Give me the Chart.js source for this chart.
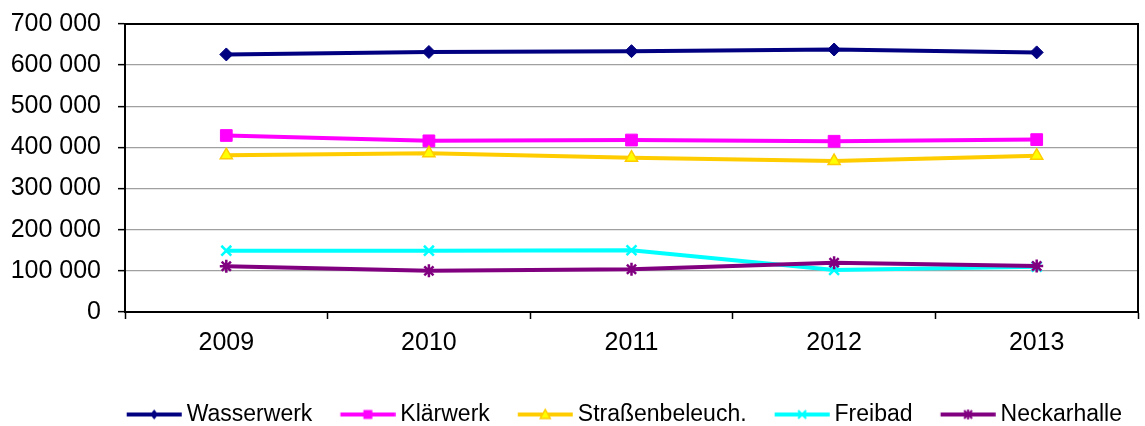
<!DOCTYPE html>
<html>
<head>
<meta charset="utf-8">
<script src="https://cdn.jsdelivr.net/npm/chart.js@4"></script>
<style>
    html, body { margin: 0; padding: 0; background: #fff; }
    #wrap { width: 1145px; height: 426px; position: relative; }
</style>
</head>
<body>
<div id="wrap"><canvas id="chart"></canvas></div>
<script>
var categories = ['2009', '2010', '2011', '2012', '2013'];
var seriesNames = ['Wasserwerk', 'Klärwerk', 'Straßenbeleuch.', 'Freibad', 'Neckarhalle'];
var wasserwerk = [626000, 632000, 634000, 638000, 631000];
var klaerwerk = [429000, 416000, 418000, 415000, 419000];
var strassenbeleuchtung = [381000, 386000, 375000, 367000, 380000];
var freibad = [149000, 149000, 150000, 102000, 110000];
var neckarhalle = [111000, 100000, 104000, 120000, 112000];
var yMin = 0, yMax = 700000, yStep = 100000;

var FONT = '"Liberation Sans", Arial, sans-serif';
var LEGEND_FONT = 23;
var SWATCH_LINE = 55;   // length of the line in a legend swatch
var SWATCH_LEAD = 12;   // line starts this far right of the legend item's x
var LEGEND_PAD = 16;
var BOX_W = SWATCH_LEAD + SWATCH_LINE + 5 - LEGEND_FONT / 2;

function formatNumber(n) {
    return String(n).replace(/\B(?=(\d{3})+(?!\d))/g, ' ');
}

// legend swatch: a short line with the marker in the middle.
// chart.js centres the image on the box, so it is padded to put the line where we want it
function legendSwatch(color, style, fill) {
    var half = Math.max(BOX_W / 2 - SWATCH_LEAD, SWATCH_LEAD + SWATCH_LINE - BOX_W / 2);
    var c = document.createElement('canvas');
    c.width = Math.ceil(half * 2);
    c.height = 16;
    var ctx = c.getContext('2d');
    var x0 = c.width / 2 - BOX_W / 2 + SWATCH_LEAD, x1 = x0 + SWATCH_LINE;
    var cy = 8, cx = (x0 + x1) / 2;
    ctx.strokeStyle = color;
    ctx.lineWidth = 4;
    ctx.beginPath();
    ctx.moveTo(x0, cy);
    ctx.lineTo(x1, cy);
    ctx.stroke();
    ctx.fillStyle = fill || color;
    ctx.strokeStyle = color;
    ctx.lineWidth = 1.5;
    ctx.beginPath();
    if (style === 'diamond') {
        ctx.moveTo(cx, cy - 5); ctx.lineTo(cx + 4, cy); ctx.lineTo(cx, cy + 5); ctx.lineTo(cx - 4, cy);
        ctx.closePath(); ctx.fill();
    } else if (style === 'square') {
        ctx.rect(cx - 4.5, cy - 4.5, 9, 9); ctx.fill();
    } else if (style === 'triangle') {
        ctx.moveTo(cx, cy - 5); ctx.lineTo(cx + 5, cy + 4); ctx.lineTo(cx - 5, cy + 4);
        ctx.closePath(); ctx.fill(); ctx.stroke();
    } else if (style === 'cross') {
        ctx.moveTo(cx - 4, cy - 4); ctx.lineTo(cx + 4, cy + 4);
        ctx.moveTo(cx + 4, cy - 4); ctx.lineTo(cx - 4, cy + 4);
        ctx.lineWidth = 2; ctx.stroke();
    } else if (style === 'star') {
        ctx.moveTo(cx - 4, cy - 4); ctx.lineTo(cx + 4, cy + 4);
        ctx.moveTo(cx + 4, cy - 4); ctx.lineTo(cx - 4, cy + 4);
        ctx.moveTo(cx, cy - 5); ctx.lineTo(cx, cy + 5);
        ctx.lineWidth = 2; ctx.stroke();
    }
    return c;
}

var styles = [
    { color: '#000080', point: 'rectRot', radius: 6.5, fill: '#000080', border: 1, swatch: 'diamond' },
    { color: '#FF00FF', point: 'rect', radius: 8.3, fill: '#FF00FF', border: 1, swatch: 'square' },
    { color: '#FFCC00', point: 'triangle', radius: 7, fill: '#FFFF00', border: 1.5, swatch: 'triangle', swatchFill: '#FFFF00' },
    { color: '#00FFFF', point: 'crossRot', radius: 7, fill: '#00FFFF', border: 2.5, swatch: 'cross' },
    { color: '#800080', point: 'star', radius: 6.5, fill: '#800080', border: 2.5, swatch: 'star' }
];
var values = [wasserwerk, klaerwerk, strassenbeleuchtung, freibad, neckarhalle];

var datasets = values.map(function (v, i) {
    var s = styles[i];
    return {
        label: seriesNames[i],
        data: v,
        borderColor: s.color,
        backgroundColor: s.color,
        borderWidth: 4,
        pointStyle: s.point,
        pointRadius: s.radius,
        pointBackgroundColor: s.fill,
        pointBorderColor: s.color,
        pointBorderWidth: s.border,
        tension: 0,
        order: values.length - i
    };
});

var plotFrame = {
    id: 'plotFrame',
    beforeDatasetsDraw: function (chart) {
        var a = chart.chartArea, ctx = chart.ctx;
        ctx.save();
        ctx.strokeStyle = '#000';
        ctx.lineWidth = 2;
        ctx.strokeRect(a.left, a.top, a.right - a.left, a.bottom - a.top);
        ctx.restore();
    }
};

Chart.defaults.font.family = FONT;
Chart.defaults.color = '#000';

new Chart(document.getElementById('chart'), {
    type: 'line',
    data: { labels: categories, datasets: datasets },
    plugins: [plotFrame],
    options: {
        responsive: true,
        maintainAspectRatio: false,
        animation: false,
        layout: { autoPadding: false, padding: { top: 24, right: 7, left: 0, bottom: -10 } },
        plugins: {
            tooltip: { enabled: false },
            legend: {
                position: 'bottom',
                align: 'end',
                labels: {
                    usePointStyle: true,
                    pointStyleWidth: BOX_W,
                    padding: LEGEND_PAD,
                    color: '#000',
                    font: { size: LEGEND_FONT, family: FONT },
                    generateLabels: function (chart) {
                        return chart.data.datasets.map(function (ds, i) {
                            return {
                                text: ds.label,
                                pointStyle: legendSwatch(styles[i].color, styles[i].swatch, styles[i].swatchFill),
                                fillStyle: styles[i].color,
                                strokeStyle: styles[i].color,
                                lineWidth: 0,
                                hidden: false,
                                datasetIndex: i
                            };
                        });
                    }
                }
            }
        },
        scales: {
            x: {
                offset: true,
                afterFit: function (scale) {
                    scale.height = 75;
                    scale.paddingLeft = 0;
                    scale.paddingRight = 0;
                },
                grid: { display: true, drawOnChartArea: false, offset: true, tickLength: 7, tickColor: '#000', tickWidth: 1.5 },
                border: { color: '#000', width: 2 },
                ticks: { padding: 9, maxRotation: 0, font: { size: 25, family: FONT }, color: '#000' }
            },
            y: {
                min: yMin,
                max: yMax,
                afterFit: function (scale) {
                    scale.width = 125;
                    scale.paddingTop = 0;
                    scale.paddingBottom = 0;
                },
                grid: { color: '#A0A0A0', lineWidth: 1.3, tickLength: 7, tickColor: '#000', tickWidth: 1.5 },
                border: { color: '#000', width: 2 },
                ticks: {
                    stepSize: yStep,
                    padding: 17,
                    font: { size: 25, family: FONT },
                    color: '#000',
                    callback: function (value) { return formatNumber(value); }
                }
            }
        }
    }
});
</script>
</body>
</html>
